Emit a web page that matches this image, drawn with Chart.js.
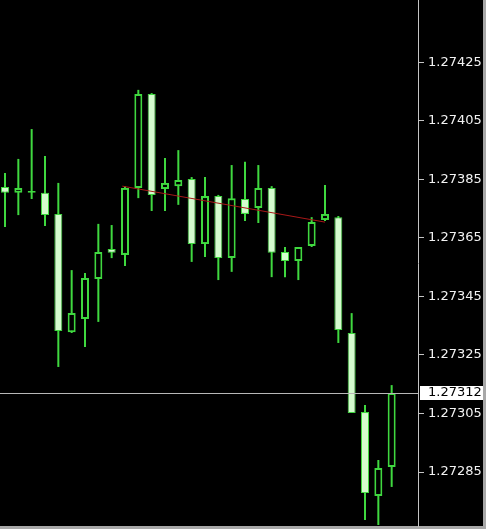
<!DOCTYPE html>
<html>
<head>
<meta charset="utf-8">
<script src="https://cdn.jsdelivr.net/npm/chart.js@4.4.1/dist/chart.umd.min.js"></script>
<style>
  html, body { margin: 0; padding: 0; background: #ffffff; }
  canvas { display: block; }
</style>
</head>
<body>
<canvas id="priceChart" width="492" height="532"></canvas>
<script>
// candles, left to right
const opens  = [1.273824, 1.273804, 1.273804, 1.273804, 1.273732, 1.273328, 1.273373, 1.273510, 1.273612, 1.273592,
                1.273821, 1.274142, 1.273817, 1.273827, 1.273851, 1.273629, 1.273793, 1.273581, 1.273783, 1.273752,
                1.273821, 1.273602, 1.273571, 1.273622, 1.273711, 1.273721, 1.273325, 1.273055, 1.272768, 1.272867];
const highs  = [1.273872, 1.273920, 1.274022, 1.273930, 1.273838, 1.273540, 1.273530, 1.273698, 1.273694, 1.273827,
                1.274156, 1.274145, 1.273923, 1.273950, 1.273858, 1.273858, 1.273797, 1.273899, 1.273910, 1.273899,
                1.273827, 1.273619, 1.273619, 1.273721, 1.273831, 1.273725, 1.273393, 1.273079, 1.272891, 1.273147];
const lows   = [1.273687, 1.273728, 1.273783, 1.273691, 1.273209, 1.273325, 1.273277, 1.273363, 1.273581, 1.273554,
                1.273786, 1.273742, 1.273742, 1.273763, 1.273568, 1.273585, 1.273506, 1.273534, 1.273708, 1.273701,
                1.273516, 1.273516, 1.273506, 1.273619, 1.273708, 1.273291, 1.273052, 1.272686, 1.272669, 1.272799];
const closes = [1.273804, 1.273821, 1.273810, 1.273728, 1.273332, 1.273393, 1.273513, 1.273602, 1.273599, 1.273821,
                1.274142, 1.273797, 1.273838, 1.273848, 1.273629, 1.273793, 1.273581, 1.273786, 1.273732, 1.273821,
                1.273599, 1.273571, 1.273619, 1.273704, 1.273732, 1.273335, 1.273052, 1.272778, 1.272864, 1.273120];

// red trend line (bar index, price)
const trendX = [8.8, 24];
const trendY = [1.273827, 1.273704];

const priceTicks = [1.27285, 1.27305, 1.27325, 1.27345, 1.27365, 1.27385, 1.27405, 1.27425];

const green = '#3fd83f';
const bearFill = '#d4fcce';
const axisGray = '#c4c4c4';
const labelFont = '13px "DejaVu Sans", Verdana, sans-serif';

const idx = opens.map((_, i) => i);
const isBull = idx.map(i => closes[i] >= opens[i]);
const lastClose = closes[closes.length - 1];

const frame = {
  id: 'frame',
  beforeDraw(chart) {
    const c = chart.ctx;
    c.save();
    c.fillStyle = '#ffffff';
    c.fillRect(0, 0, chart.width, chart.height);
    c.fillStyle = '#a8a8a8';
    c.fillRect(0, 0, 486, 529);
    c.fillStyle = '#000000';
    c.fillRect(0, 0, 483, 526);
    c.restore();
  },
  afterDatasetsDraw(chart) {
    const c = chart.ctx;
    const y = Math.round(chart.scales.y.getPixelForValue(lastClose)) + 0.5;
    c.save();
    c.strokeStyle = '#b8b8b8';
    c.lineWidth = 1;
    c.beginPath();
    c.moveTo(chart.chartArea.left, y);
    c.lineTo(chart.chartArea.right, y);
    c.stroke();
    c.restore();
  },
  afterDraw(chart) {
    const c = chart.ctx;
    const y = Math.round(chart.scales.y.getPixelForValue(lastClose));
    c.save();
    c.fillStyle = '#ffffff';
    c.fillRect(chart.chartArea.right + 2, y - 7, 63, 14);
    c.fillStyle = '#000000';
    c.font = labelFont;
    c.textBaseline = 'middle';
    c.fillText(lastClose.toFixed(5), chart.chartArea.right + 10, y);
    c.restore();
  }
};

const ctx = document.getElementById('priceChart').getContext('2d');

new Chart(ctx, {
  type: 'bar',
  data: {
    datasets: [
      {
        type: 'line',
        data: trendX.map((x, i) => ({ x: x, y: trendY[i] })),
        borderColor: '#a81818',
        borderWidth: 1,
        pointRadius: 0,
        order: 0
      },
      {
        data: idx.map(i => ({ x: i, y: [opens[i], closes[i]] })),
        backgroundColor: idx.map(i => isBull[i] ? '#000000' : bearFill),
        borderColor: green,
        borderWidth: idx.map(i => isBull[i] ? 2 : 1),
        borderSkipped: false,
        barThickness: 8,
        inflateAmount: 0,
        grouped: false,
        order: 1
      },
      {
        data: idx.map(i => ({ x: i, y: [lows[i], highs[i]] })),
        backgroundColor: green,
        borderWidth: 0,
        barThickness: 2,
        inflateAmount: 0,
        grouped: false,
        order: 2
      }
    ]
  },
  options: {
    responsive: false,
    animation: false,
    devicePixelRatio: 1,
    layout: { padding: { left: 0, top: 0, right: 0, bottom: 6 } },
    plugins: {
      legend: { display: false },
      tooltip: { enabled: false }
    },
    scales: {
      x: {
        type: 'linear',
        display: false,
        offset: false,
        min: -0.375,
        max: 30.975
      },
      y: {
        position: 'right',
        min: 1.2726655,
        max: 1.2744631,
        afterFit(scale) {
          scale.width = 74;
          scale.paddingTop = 0;
          scale.paddingBottom = 0;
        },
        afterBuildTicks(scale) { scale.ticks = priceTicks.map(v => ({ value: v })); },
        border: { display: true, color: axisGray, width: 1 },
        grid: { drawOnChartArea: false, drawTicks: true, tickLength: 6, color: axisGray },
        ticks: {
          color: '#f2f2f2',
          padding: 4,
          font: { family: '"DejaVu Sans", Verdana, sans-serif', size: 13 },
          callback: v => v.toFixed(5)
        }
      }
    }
  },
  plugins: [frame]
});
</script>
</body>
</html>
